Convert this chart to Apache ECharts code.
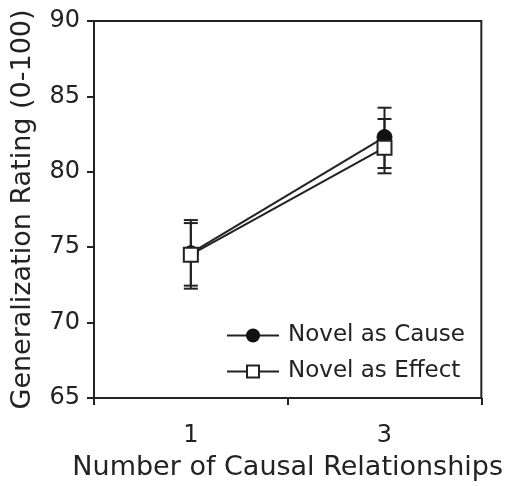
<!DOCTYPE html>
<html>
<head>
<meta charset="utf-8">
<script src="https://cdn.jsdelivr.net/npm/echarts@6/dist/echarts.min.js"></script>
<style>
  html, body { margin: 0; padding: 0; background: #fff; }
  #chart { width: 506px; height: 486px; }
</style>
</head>
<body>
<div id="chart"></div>
<script>
// Number of causal relationships (x categories)
const categories = ['1', '3'];

// Mean generalization ratings
const causeMeans = [74.6, 82.3];
const effectMeans = [74.5, 81.6];

// Error bar bounds (low, high)
const causeLow = [72.45, 80.25];
const causeHigh = [76.8, 84.25];
const effectLow = [72.25, 79.9];
const effectHigh = [76.6, 83.5];

const seriesNames = ['Novel as Cause', 'Novel as Effect'];

const ink = '#222';
const font = 'DejaVu Sans';

function errorData(low, high) {
  return categories.map((c, i) => [i, low[i], high[i]]);
}

function renderErrorBar(params, api) {
  const x = api.value(0);
  const lo = api.coord([x, api.value(1)]);
  const hi = api.coord([x, api.value(2)]);
  const half = 7;
  const style = { stroke: ink, lineWidth: 2, fill: null };
  return {
    type: 'group',
    children: [
      { type: 'line', shape: { x1: hi[0], y1: hi[1], x2: lo[0], y2: lo[1] }, style },
      { type: 'line', shape: { x1: hi[0] - half, y1: hi[1], x2: hi[0] + half, y2: hi[1] }, style },
      { type: 'line', shape: { x1: lo[0] - half, y1: lo[1], x2: lo[0] + half, y2: lo[1] }, style }
    ]
  };
}

const chart = echarts.init(document.getElementById('chart'), null, { renderer: 'canvas' });

chart.setOption({
  animation: false,
  backgroundColor: '#fff',
  textStyle: { fontFamily: font, color: ink },
  grid: {
    left: 94, right: 24, top: 21, bottom: 85,
    show: true, borderColor: ink, borderWidth: 2
  },
  legend: {
    orient: 'vertical',
    right: 36,
    bottom: 98,
    itemWidth: 52,
    itemHeight: 15,
    itemGap: 13,
    data: seriesNames,
    textStyle: { fontFamily: font, fontSize: 23, color: ink, padding: [0, 0, 0, 4] }
  },
  xAxis: {
    type: 'category',
    data: categories,
    boundaryGap: true,
    name: 'Number of Causal Relationships',
    nameLocation: 'middle',
    nameGap: 56,
    nameTextStyle: { fontFamily: font, fontSize: 27, color: ink },
    axisLine: { lineStyle: { color: ink, width: 2 } },
    axisTick: { show: true, length: 7, lineStyle: { color: ink, width: 2 } },
    axisLabel: { fontFamily: font, fontSize: 24, color: ink, margin: 26 },
    splitLine: { show: false }
  },
  yAxis: {
    type: 'value',
    min: 65, max: 90, interval: 5,
    name: 'Generalization Rating (0-100)',
    nameLocation: 'middle',
    nameRotate: 90,
    nameGap: 58,
    nameTextStyle: { fontFamily: font, fontSize: 27, color: ink },
    axisLine: { show: true, lineStyle: { color: ink, width: 2 } },
    axisTick: { show: true, length: 7, lineStyle: { color: ink, width: 2 } },
    axisLabel: { fontFamily: font, fontSize: 24, color: ink, margin: 14 },
    splitLine: { show: false }
  },
  series: [
    {
      type: 'custom',
      name: 'causeErr',
      renderItem: renderErrorBar,
      data: errorData(causeLow, causeHigh),
      z: 1,
      silent: true
    },
    {
      type: 'custom',
      name: 'effectErr',
      renderItem: renderErrorBar,
      data: errorData(effectLow, effectHigh),
      z: 1,
      silent: true
    },
    {
      type: 'line',
      name: seriesNames[0],
      data: causeMeans,
      symbol: 'circle',
      symbolSize: 15,
      lineStyle: { color: ink, width: 2 },
      itemStyle: { color: '#111', borderColor: '#111', borderWidth: 1 },
      z: 3
    },
    {
      type: 'line',
      name: seriesNames[1],
      data: effectMeans,
      symbol: 'rect',
      symbolSize: 14,
      lineStyle: { color: ink, width: 2 },
      itemStyle: { color: '#fff', borderColor: ink, borderWidth: 2 },
      z: 4
    }
  ]
});
</script>
</body>
</html>
